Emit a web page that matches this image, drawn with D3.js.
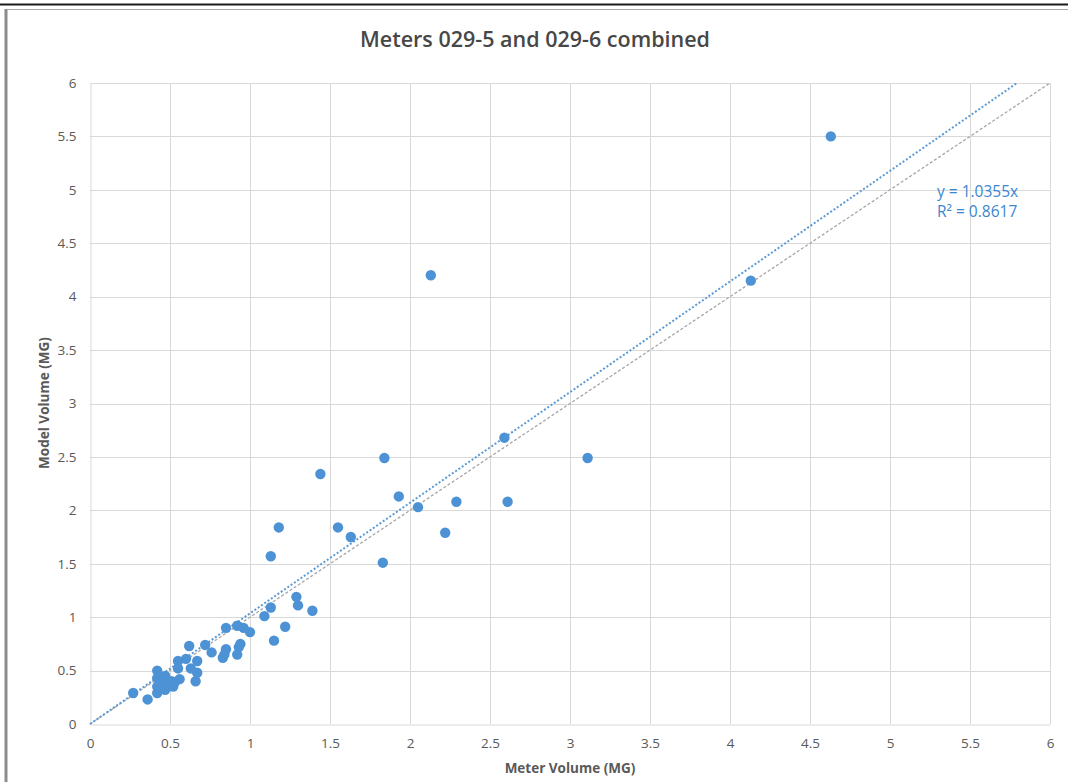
<!DOCTYPE html>
<html>
<head>
<meta charset="utf-8">
<script src="https://cdn.jsdelivr.net/npm/d3@7"></script>
<style>
  html, body { margin: 0; padding: 0; background: #ffffff; }
  svg { display: block; }
</style>
</head>
<body>
<svg id="chart" width="1068" height="782"></svg>
<script>
// Combined meter readings vs. modelled volumes (million gallons)
const meterVolume = [
  0.27, 0.36, 0.42, 0.42, 0.42, 0.42, 0.47, 0.47, 0.49, 0.51, 0.52, 0.56,
  0.55, 0.55, 0.60, 0.62, 0.63, 0.67, 0.67, 0.66, 0.72, 0.76, 0.85, 0.85,
  0.84, 0.83, 0.92, 0.96, 1.00, 0.94, 0.93, 0.92, 1.09, 1.13, 1.15, 1.22,
  1.29, 1.30, 1.39, 1.13, 1.18, 1.44, 1.55, 1.63, 1.83, 1.84, 1.93, 2.05,
  2.22, 2.29, 2.61, 2.59, 3.11, 2.13, 4.13, 4.63, 0.45, 0.53
];
const modelVolume = [
  0.29, 0.23, 0.50, 0.43, 0.35, 0.29, 0.45, 0.32, 0.36, 0.40, 0.35, 0.42,
  0.59, 0.52, 0.61, 0.73, 0.52, 0.59, 0.48, 0.40, 0.74, 0.67, 0.90, 0.70,
  0.65, 0.62, 0.92, 0.90, 0.86, 0.75, 0.72, 0.65, 1.01, 1.09, 0.78, 0.91,
  1.19, 1.11, 1.06, 1.57, 1.84, 2.34, 1.84, 1.75, 1.51, 2.49, 2.13, 2.03,
  1.79, 2.08, 2.08, 2.68, 2.49, 4.20, 4.15, 5.50, 0.38, 0.39
];
const tickValues = [0, 0.5, 1, 1.5, 2, 2.5, 3, 3.5, 4, 4.5, 5, 5.5, 6];
const trendSlope = 1.0355;
const trendR2 = 0.8617;
const titleText = "Meters 029-5 and 029-6 combined";
const xTitle = "Meter Volume (MG)";
const yTitle = "Model Volume (MG)";

const svg = d3.select("#chart");
const font = "'Open Sans', 'Segoe UI', sans-serif";

// outer frame
svg.append("line").attr("x1", 0).attr("x2", 1068).attr("y1", 4.5).attr("y2", 4.5)
  .attr("stroke", "#1a1a1a").attr("stroke-width", 2);
svg.append("line").attr("x1", 5).attr("x2", 1068).attr("y1", 9.5).attr("y2", 9.5)
  .attr("stroke", "#a6a6a6").attr("stroke-width", 1);
svg.append("line").attr("x1", 6).attr("x2", 6).attr("y1", 9).attr("y2", 782)
  .attr("stroke", "#8c8c8c").attr("stroke-width", 3);

const x = d3.scaleLinear().domain([0, 6]).range([90, 1050]);
const y = d3.scaleLinear().domain([0, 6]).range([724, 83]);

// gridlines
const grid = svg.append("g");
grid.selectAll("line.v").data(tickValues.slice(1)).join("line")
  .attr("x1", d => Math.round(x(d)) + 0.5).attr("x2", d => Math.round(x(d)) + 0.5)
  .attr("y1", y(6)).attr("y2", y(0))
  .attr("stroke", "#d9d9d9").attr("stroke-width", 1);
grid.selectAll("line.h").data(tickValues.slice(1)).join("line")
  .attr("y1", d => Math.round(y(d)) + 0.5).attr("y2", d => Math.round(y(d)) + 0.5)
  .attr("x1", x(0)).attr("x2", x(6))
  .attr("stroke", "#d9d9d9").attr("stroke-width", 1);

// axes
const fmt = d => String(d);
const xAxis = svg.append("g").attr("transform", `translate(0,${Math.round(y(0)) + 0.5})`)
  .call(d3.axisBottom(x).tickValues(tickValues).tickFormat(fmt).tickSize(0).tickPadding(14));
const yAxis = svg.append("g").attr("transform", `translate(${Math.round(x(0)) + 0.5},0)`)
  .call(d3.axisLeft(y).tickValues(tickValues).tickFormat(fmt).tickSize(0).tickPadding(14));
[xAxis, yAxis].forEach(a => {
  a.selectAll("text").attr("fill", "#595959").style("font-family", font).style("font-size", "13.5px");
});
xAxis.select(".domain").attr("stroke", "#d9d9d9");
yAxis.select(".domain").attr("stroke", "#d9d9d9");

// reference line y = x
svg.append("line")
  .attr("x1", x(0)).attr("y1", y(0)).attr("x2", x(6)).attr("y2", y(6))
  .attr("stroke", "#a6a6a6").attr("stroke-width", 1.3).attr("stroke-dasharray", "3,2");

// linear trend through origin
const trendEnd = 6 / trendSlope;
svg.append("line")
  .attr("x1", x(0)).attr("y1", y(0)).attr("x2", x(trendEnd)).attr("y2", y(trendSlope * trendEnd))
  .attr("stroke", "#5b9bd5").attr("stroke-width", 2).attr("stroke-dasharray", "2,2");

// points
svg.append("g").selectAll("circle").data(meterVolume.map((v, i) => [v, modelVolume[i]])).join("circle")
  .attr("cx", d => x(d[0])).attr("cy", d => y(d[1])).attr("r", 5.2)
  .attr("fill", "#4d92d4");

// trend equation
const eq = svg.append("g").style("font-family", font).style("font-size", "15.5px").attr("fill", "#3b86d0");
eq.append("text").attr("x", 937).attr("y", 197).text(`y = ${trendSlope}x`);
eq.append("text").attr("x", 937).attr("y", 217).text(`R² = ${trendR2}`);

// titles
svg.append("text").attr("x", 535).attr("y", 47).attr("text-anchor", "middle")
  .style("font-family", font).style("font-size", "21.5px").style("font-weight", 600)
  .attr("fill", "#474747").text(titleText);
svg.append("text").attr("x", 570).attr("y", 773).attr("text-anchor", "middle")
  .style("font-family", font).style("font-size", "13.5px").style("font-weight", 700)
  .attr("fill", "#595959").text(xTitle);
svg.append("text").attr("transform", `translate(49,403) rotate(-90)`).attr("text-anchor", "middle")
  .style("font-family", font).style("font-size", "13.5px").style("font-weight", 700)
  .attr("fill", "#595959").text(yTitle);
</script>
</body>
</html>
